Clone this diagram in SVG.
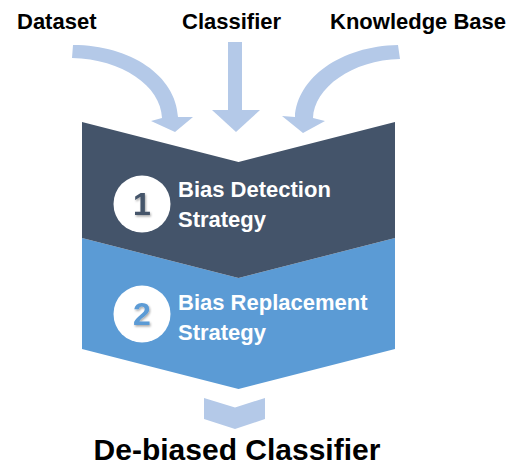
<svg xmlns="http://www.w3.org/2000/svg" width="530" height="468" viewBox="0 0 530 468">
  <defs>
    <style>
      .lbl { font-family: "Liberation Sans", Arial, sans-serif; font-weight: bold; fill: #000000; }
      .top { font-size: 22px; }
      .step { font-family: "Liberation Sans", Arial, sans-serif; font-weight: bold; font-size: 22px; fill: #FFFFFF; }
      .num { font-family: "Liberation Sans", Arial, sans-serif; font-weight: bold; font-size: 32px; text-anchor: middle; }
      .arrow { fill: #B4C9E8; }
      .circ { fill: #FFFFFF; }
    </style>
    <filter id="sh" x="-50%" y="-50%" width="200%" height="200%">
      <feDropShadow dx="1" dy="1.5" stdDeviation="0.8" flood-color="#000000" flood-opacity="0.35"/>
    </filter>
  </defs>
  <rect width="530" height="468" fill="#FFFFFF"/>

  <g id="connectors">
    <path class="arrow" d="M73,45 C131,45 176,76 178,117 L193,117 L175,132 L151,121 L162,118 C161,86 122,59 72,58 Z"/>
    <rect class="arrow" x="228" y="42" width="14" height="69"/>
    <polygon class="arrow" points="212,110 260,110 236,132"/>
    <path class="arrow" d="M398,45 C341,46 297,78 295,117 L282,116 L303,133 L325,121 L313,118 C314,88 352,60 400,59 Z"/>
    <polygon class="arrow" points="204,398 235,407.5 265,398 265,419 235,429 204,419"/>
  </g>

  <g id="dataset">
    <text class="lbl top" x="17" y="29">Dataset</text>
  </g>
  <g id="classifier">
    <text class="lbl top" x="182" y="29">Classifier</text>
  </g>
  <g id="knowledge-base">
    <text class="lbl top" x="330" y="29">Knowledge Base</text>
  </g>

  <g id="bias-replacement">
    <polygon points="82,238 238.5,278 395,238 395,349 238.5,389 82,349" fill="#5B9BD5"/>
    <circle class="circ" cx="142" cy="314" r="28.5"/>
    <text class="num" x="142" y="325" fill="#5B9BD5" filter="url(#sh)">2</text>
    <text class="step" x="178" y="310">Bias Replacement</text>
    <text class="step" x="178" y="340">Strategy</text>
  </g>

  <g id="bias-detection">
    <polygon points="82,122 238.5,162 395,122 395,238 238.5,278 82,238" fill="#44546A"/>
    <circle class="circ" cx="142" cy="204" r="28.5"/>
    <text class="num" x="142" y="215" fill="#44546A" filter="url(#sh)">1</text>
    <text class="step" x="178" y="197">Bias Detection</text>
    <text class="step" x="178" y="227">Strategy</text>
  </g>

  <g id="debiased-classifier">
    <text class="lbl" x="237" y="460" font-size="30" text-anchor="middle">De-biased Classifier</text>
  </g>
</svg>
